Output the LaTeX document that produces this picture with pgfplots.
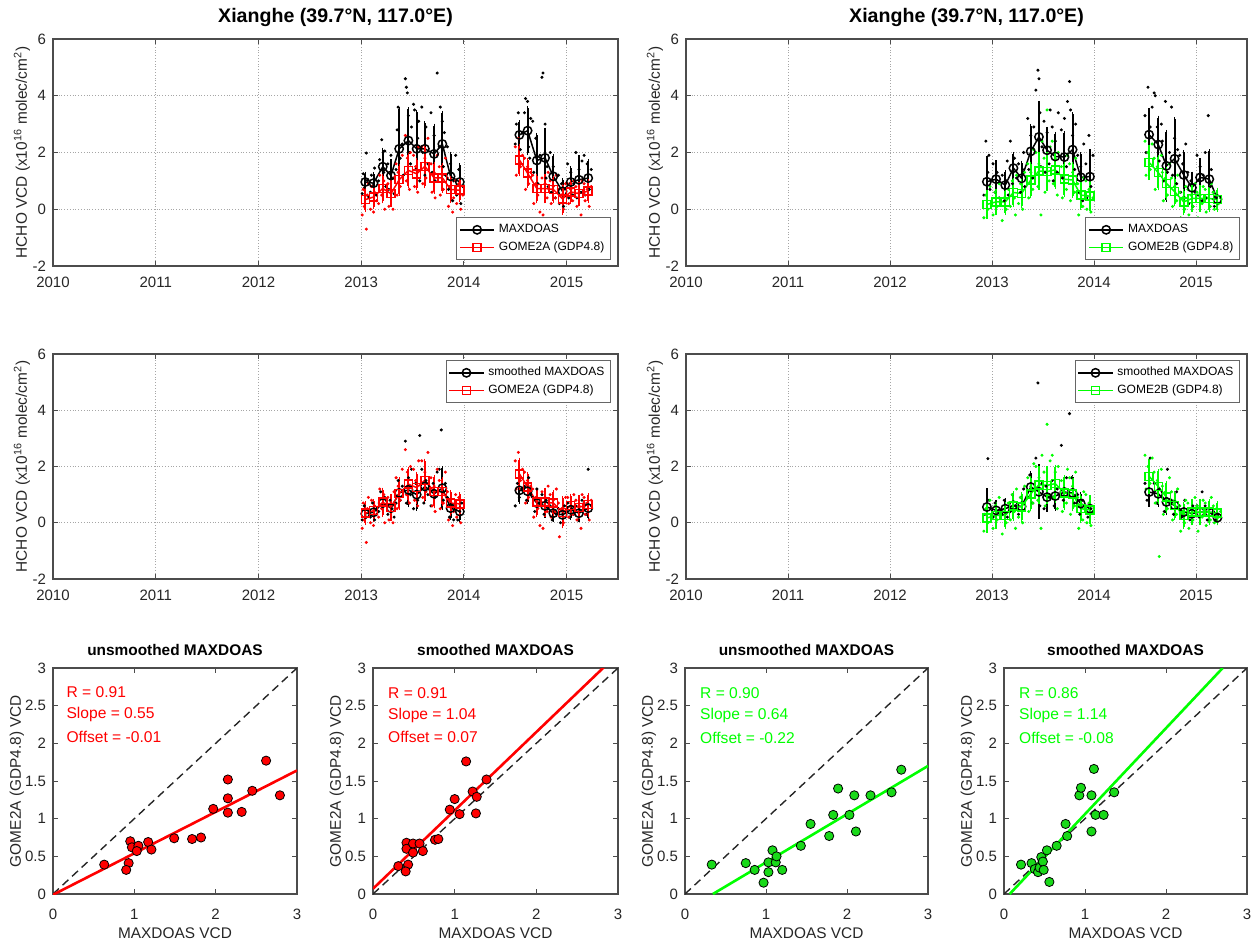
\documentclass[border=0pt]{standalone}
\usepackage{fontspec}
\setmainfont{Liberation Sans}
\usepackage{pgfplots}
\usepackage{pgfplotstable}
\pgfplotsset{compat=1.18}
\definecolor{mred}{rgb}{1,0,0}
\definecolor{mgreen}{rgb}{0,1,0}
\definecolor{mgfill}{rgb}{0.1,0.85,0.1}

% ---------- monthly means (x, mean, std) ----------
\pgfplotstableread{
x y e
2013.04 0.96 0.30
2013.12 0.92 0.33
2013.21 1.50 0.60
2013.29 1.19 0.50
2013.37 2.13 1.40
2013.46 2.42 1.10
2013.54 2.13 1.30
2013.62 2.13 0.90
2013.71 1.95 1.00
2013.79 2.30 1.10
2013.87 1.16 0.80
2013.96 0.96 0.60
2014.25 nan nan
2014.54 2.62 0.45
2014.62 2.77 0.80
2014.71 1.72 0.90
2014.79 1.81 1.00
2014.87 1.16 0.70
2014.96 0.63 0.40
2015.04 0.96 0.50
2015.12 1.04 0.80
2015.21 1.10 0.60
}\tmaxA
\pgfplotstableread{
x y e
2013.04 0.34 0.35
2013.12 0.43 0.35
2013.21 0.73 0.45
2013.29 0.55 0.40
2013.37 1.04 0.50
2013.46 1.37 0.55
2013.54 1.25 0.50
2013.62 1.51 0.70
2013.71 1.11 0.50
2013.79 1.11 0.45
2013.87 0.70 0.40
2013.96 0.67 0.35
2014.25 nan nan
2014.54 1.74 0.50
2014.62 1.27 0.45
2014.71 0.73 0.45
2014.79 0.73 0.45
2014.87 0.70 0.40
2014.96 0.37 0.50
2015.04 0.61 0.35
2015.12 0.55 0.35
2015.21 0.64 0.35
}\tgA
\pgfplotstableread{
x y e
2013.04 0.32 0.25
2013.12 0.37 0.25
2013.21 0.70 0.35
2013.29 0.52 0.30
2013.37 1.06 0.45
2013.46 1.17 0.55
2013.54 1.00 0.50
2013.62 1.29 0.50
2013.71 1.03 0.45
2013.79 1.23 0.70
2013.87 0.52 0.35
2013.96 0.40 0.30
2014.25 nan nan
2014.54 1.15 0.40
2014.62 1.12 0.40
2014.71 0.70 0.35
2014.79 0.60 0.35
2014.87 0.34 0.25
2014.96 0.28 0.25
2015.04 0.46 0.30
2015.12 0.34 0.25
2015.21 0.52 0.35
}\tsmA
\pgfplotstableread{
x y e
2012.95 0.97 0.85
2013.04 1.06 0.60
2013.13 0.85 0.45
2013.21 1.45 0.50
2013.29 1.09 0.55
2013.38 2.04 0.90
2013.46 2.55 1.20
2013.54 2.08 0.75
2013.62 1.86 0.80
2013.71 1.84 0.85
2013.79 2.10 1.25
2013.87 1.13 0.80
2013.96 1.15 0.90
2014.25 nan nan
2014.54 2.63 0.87
2014.63 2.28 0.95
2014.71 1.53 1.20
2014.79 1.78 1.40
2014.88 1.21 0.80
2014.96 0.76 0.50
2015.04 1.12 0.60
2015.13 1.06 0.98
2015.21 0.35 0.20
}\tmaxB
\pgfplotstableread{
x y e
2012.95 0.17 0.45
2013.04 0.26 0.40
2013.13 0.26 0.40
2013.21 0.59 0.45
2013.29 0.56 0.45
2013.38 1.03 0.55
2013.46 1.35 0.60
2013.54 1.33 0.60
2013.62 1.39 0.60
2013.71 1.06 0.55
2013.79 1.03 0.55
2013.87 0.50 0.45
2013.96 0.46 0.45
2014.25 nan nan
2014.54 1.65 0.55
2014.63 1.29 0.55
2014.71 0.91 0.50
2014.79 0.62 0.45
2014.88 0.26 0.40
2014.96 0.38 0.40
2015.04 0.38 0.40
2015.13 0.38 0.40
2015.21 0.34 0.35
}\tgB
\pgfplotstableread{
x y e
2012.95 0.56 0.60
2013.04 0.44 0.30
2013.13 0.50 0.30
2013.21 0.62 0.35
2013.29 0.58 0.35
2013.38 1.27 0.50
2013.46 1.10 0.90
2013.54 0.91 0.45
2013.62 0.95 0.45
2013.71 1.09 0.50
2013.79 1.06 0.55
2013.87 0.68 0.35
2013.96 0.50 0.30
2014.25 nan nan
2014.54 1.09 0.45
2014.63 1.03 0.40
2014.71 0.74 0.40
2014.79 0.62 0.35
2014.88 0.38 0.30
2014.96 0.32 0.25
2015.04 0.38 0.30
2015.13 0.38 0.30
2015.21 0.18 0.20
}\tsmB

% ---------- individual observations ----------
\pgfplotstableread[row sep=\\]{x y\\
2013.01 0.55\\2013.02 1.25\\2013.03 0.75\\2013.05 1.98\\2013.06 1.02\\2013.07 0.45\\
2013.09 0.6\\2013.10 1.2\\2013.12 0.85\\2013.13 1.45\\2013.15 0.5\\
2013.17 1.0\\2013.18 1.75\\2013.20 2.45\\2013.22 1.3\\2013.23 2.05\\2013.24 0.8\\
2013.26 1.6\\2013.27 0.7\\2013.29 1.9\\2013.31 1.1\\2013.32 0.55\\
2013.34 1.4\\2013.35 2.8\\2013.36 3.6\\2013.38 1.8\\2013.40 2.3\\2013.41 1.2\\
2013.43 4.6\\2013.44 4.3\\2013.45 4.1\\2013.46 3.3\\2013.47 2.0\\2013.48 1.6\\2013.49 2.9\\
2013.51 3.7\\2013.52 3.5\\2013.53 1.4\\2013.55 2.5\\2013.57 1.0\\2013.56 3.1\\
2013.59 3.6\\2013.60 2.0\\2013.62 1.2\\2013.63 2.9\\2013.65 1.6\\
2013.68 3.4\\2013.69 1.3\\2013.71 2.6\\2013.72 1.0\\2013.74 4.8\\
2013.76 2.2\\2013.77 3.6\\2013.79 3.1\\2013.80 1.5\\2013.82 1.2\\2013.81 2.7\\
2013.84 2.2\\2013.85 0.7\\2013.87 1.6\\2013.89 0.3\\2013.90 1.0\\
2013.92 1.9\\2013.93 0.5\\2013.95 1.4\\2013.97 0.2\\2013.99 0.8\\
2014.50 2.3\\2014.51 3.0\\2014.53 3.4\\2014.55 2.1\\2014.57 2.7\\
2014.59 3.4\\2014.60 3.9\\2014.62 3.8\\2014.63 2.2\\2014.65 3.2\\2014.64 1.8\\
2014.67 3.1\\2014.68 1.3\\2014.70 2.5\\2014.72 0.9\\2014.74 1.9\\
2014.76 4.65\\2014.77 4.8\\2014.79 3.0\\2014.81 1.5\\2014.82 0.8\\2014.80 1.1\\
2014.84 2.0\\2014.85 0.6\\2014.87 1.5\\2014.89 0.4\\2014.90 1.2\\
2014.92 1.2\\2014.93 0.2\\2014.95 0.9\\2014.97 0.1\\2014.99 0.5\\
2015.01 1.6\\2015.02 0.4\\2015.04 1.3\\2015.06 0.5\\2015.07 0.9\\
2015.09 2.0\\2015.10 0.4\\2015.12 1.4\\2015.14 0.6\\2015.15 1.7\\
2015.17 1.9\\2015.18 0.5\\2015.20 1.6\\2015.22 0.7\\2015.24 1.4\\
}\dmaxA
\pgfplotstableread[row sep=\\]{x y\\
2013.01 -0.2\\2013.02 0.7\\2013.03 0.1\\2013.05 -0.7\\2013.06 0.5\\2013.07 0.9\\
2013.09 0.0\\2013.10 0.8\\2013.12 -0.1\\2013.13 0.6\\2013.15 0.3\\
2013.17 0.2\\2013.18 1.2\\2013.20 0.5\\2013.22 1.0\\2013.23 0.0\\
2013.26 0.9\\2013.27 0.1\\2013.29 0.7\\2013.31 0.0\\2013.32 1.1\\
2013.34 1.6\\2013.35 0.5\\2013.36 1.3\\2013.38 0.8\\2013.40 1.9\\
2013.43 2.6\\2013.44 1.0\\2013.45 1.8\\2013.47 0.7\\2013.48 2.0\\
2013.51 1.9\\2013.52 0.8\\2013.53 1.5\\2013.55 0.6\\2013.56 2.2\\
2013.59 2.2\\2013.60 0.9\\2013.62 1.8\\2013.63 1.1\\2013.65 2.5\\
2013.68 1.6\\2013.69 0.6\\2013.71 1.3\\2013.72 0.4\\2013.74 1.9\\
2013.76 1.5\\2013.77 0.5\\2013.79 1.2\\2013.80 0.7\\2013.82 1.8\\
2013.84 1.1\\2013.85 0.1\\2013.87 0.8\\2013.89 -0.1\\2013.90 0.4\\
2013.92 1.0\\2013.93 0.2\\2013.95 0.9\\2013.97 0.0\\2013.99 0.5\\
2014.50 2.2\\2014.51 1.2\\2014.53 2.5\\2014.55 1.5\\2014.57 1.9\\
2014.59 1.8\\2014.60 0.7\\2014.62 1.5\\2014.63 0.9\\2014.65 1.3\\
2014.67 1.2\\2014.68 0.2\\2014.70 0.9\\2014.72 0.5\\2014.74 -0.1\\
2014.76 1.1\\2014.77 -0.2\\2014.79 0.9\\2014.81 0.4\\2014.82 1.3\\
2014.84 1.0\\2014.85 0.2\\2014.87 0.8\\2014.89 0.4\\2014.90 1.2\\
2014.92 0.7\\2014.93 -0.5\\2014.95 0.5\\2014.97 0.0\\2014.99 0.9\\
2015.01 0.9\\2015.02 0.2\\2015.04 0.7\\2015.06 0.3\\2015.07 1.0\\
2015.09 0.8\\2015.10 0.1\\2015.12 0.6\\2015.14 -0.2\\2015.15 1.0\\
2015.17 0.9\\2015.18 0.3\\2015.20 0.7\\2015.22 0.1\\2015.24 0.8\\
}\dgA
\pgfplotstableread[row sep=\\]{x y\\
2013.01 0.1\\2013.03 0.6\\2013.05 0.2\\2013.07 0.45\\
2013.09 0.2\\2013.11 0.7\\2013.13 0.1\\2013.15 0.5\\
2013.17 0.4\\2013.19 1.1\\2013.21 0.6\\2013.23 0.9\\
2013.26 0.3\\2013.28 0.8\\2013.30 0.5\\2013.32 0.2\\
2013.34 0.7\\2013.36 1.5\\2013.38 0.8\\2013.40 1.3\\
2013.43 2.9\\2013.44 0.7\\2013.46 1.6\\2013.48 1.0\\2013.49 1.9\\
2013.51 0.5\\2013.53 1.4\\2013.55 0.8\\2013.57 3.1\\
2013.59 1.9\\2013.61 0.7\\2013.63 1.5\\2013.65 1.0\\
2013.68 0.6\\2013.70 1.4\\2013.72 0.9\\2013.74 1.8\\
2013.76 1.9\\2013.78 3.3\\2013.80 0.8\\2013.82 1.4\\
2013.84 0.9\\2013.86 0.2\\2013.88 0.6\\2013.90 0.1\\
2013.92 0.6\\2013.94 0.1\\2013.96 0.4\\2013.98 0.7\\
2014.50 0.6\\2014.52 1.4\\2014.54 0.9\\2014.56 1.2\\
2014.59 1.3\\2014.61 0.8\\2014.63 1.6\\2014.65 1.0\\
2014.67 0.9\\2014.69 0.4\\2014.71 1.2\\2014.73 0.7\\
2014.76 1.0\\2014.78 0.3\\2014.80 0.8\\2014.82 0.5\\
2014.84 0.6\\2014.86 0.1\\2014.88 0.4\\2014.90 0.3\\
2014.92 0.5\\2014.94 0.0\\2014.96 0.3\\2014.98 0.6\\
2015.01 0.7\\2015.03 0.2\\2015.05 0.5\\2015.07 0.3\\
2015.09 0.6\\2015.11 0.1\\2015.13 0.4\\2015.15 0.8\\
2015.17 0.7\\2015.19 0.3\\2015.21 1.9\\2015.24 0.6\\
}\dsmA
\pgfplotstableread[row sep=\\]{x y\\
2012.92 0.5\\2012.94 2.4\\2012.96 1.3\\2012.98 0.7\\2012.97 1.9\\
2013.01 1.6\\2013.03 0.6\\2013.05 1.3\\2013.07 0.4\\
2013.10 1.2\\2013.12 0.3\\2013.14 1.0\\2013.16 0.5\\2013.15 1.7\\
2013.18 2.4\\2013.20 0.9\\2013.22 1.8\\2013.24 1.1\\
2013.26 1.6\\2013.28 0.6\\2013.30 1.4\\2013.32 0.8\\2013.31 2.0\\
2013.35 3.2\\2013.36 1.4\\2013.38 2.6\\2013.40 1.1\\2013.41 2.9\\
2013.43 4.2\\2013.45 4.9\\2013.46 4.6\\2013.47 3.4\\2013.48 1.5\\2013.49 2.2\\
2013.51 3.1\\2013.52 1.3\\2013.54 2.7\\2013.56 1.6\\2013.57 3.5\\
2013.59 2.9\\2013.60 1.0\\2013.62 2.4\\2013.64 1.3\\2013.65 3.4\\
2013.68 2.8\\2013.69 1.1\\2013.71 3.2\\2013.73 1.5\\2013.74 3.8\\
2013.76 4.5\\2013.77 3.5\\2013.79 2.6\\2013.81 1.4\\2013.82 3.0\\
2013.84 1.9\\2013.85 0.6\\2013.87 1.5\\2013.89 0.3\\2013.90 2.3\\
2013.92 1.6\\2013.93 0.4\\2013.95 2.6\\2013.97 0.8\\2013.99 1.9\\
2014.50 3.3\\2014.51 2.0\\2014.53 4.3\\2014.55 2.9\\2014.57 3.6\\
2014.59 4.1\\2014.60 4.0\\2014.62 2.9\\2014.64 1.7\\2014.66 3.0\\
2014.67 2.4\\2014.68 1.0\\2014.70 3.8\\2014.72 1.3\\2014.74 2.0\\
2014.76 3.6\\2014.77 1.2\\2014.79 2.5\\2014.81 0.9\\2014.82 2.1\\
2014.84 1.9\\2014.85 0.6\\2014.87 1.6\\2014.89 0.4\\2014.90 2.3\\
2014.92 1.3\\2014.93 0.2\\2014.95 1.0\\2014.97 0.1\\2014.99 0.6\\
2015.01 1.9\\2015.02 0.5\\2015.04 1.5\\2015.06 0.3\\2015.07 1.2\\
2015.09 2.0\\2015.10 0.4\\2015.12 3.3\\2015.14 0.8\\2015.15 1.4\\
2015.17 0.6\\2015.18 0.1\\2015.20 0.4\\2015.22 0.2\\
}\dmaxB
\pgfplotstableread[row sep=\\]{x y\\
2012.92 -0.3\\2012.94 0.5\\2012.96 0.0\\2012.98 0.8\\
2013.01 -0.2\\2013.03 0.6\\2013.05 0.1\\2013.07 0.9\\
2013.10 -0.4\\2013.12 0.4\\2013.14 0.0\\2013.16 0.7\\
2013.18 0.1\\2013.20 1.0\\2013.22 0.4\\2013.24 1.2\\2013.23 -0.2\\
2013.26 0.2\\2013.28 0.9\\2013.30 0.0\\2013.32 1.3\\
2013.35 1.6\\2013.36 0.4\\2013.38 1.3\\2013.40 0.7\\2013.41 2.1\\
2013.43 2.0\\2013.45 0.8\\2013.46 1.6\\2013.48 -0.2\\2013.49 2.4\\
2013.51 1.8\\2013.52 0.6\\2013.54 3.5\\2013.56 1.0\\2013.57 2.2\\
2013.59 2.4\\2013.60 0.9\\2013.62 1.8\\2013.64 0.5\\2013.65 2.0\\
2013.68 1.5\\2013.69 0.4\\2013.71 1.2\\2013.73 0.7\\2013.74 1.9\\
2013.76 1.6\\2013.77 0.3\\2013.79 1.3\\2013.81 0.6\\2013.82 1.8\\
2013.84 0.9\\2013.85 -0.2\\2013.87 0.6\\2013.89 0.1\\2013.90 1.1\\
2013.92 1.0\\2013.93 0.0\\2013.95 0.7\\2013.97 -0.1\\2013.99 0.4\\
2014.50 2.4\\2014.51 1.2\\2014.53 2.0\\2014.55 1.4\\2014.57 2.3\\
2014.59 1.8\\2014.60 0.7\\2014.62 1.5\\2014.64 -1.2\\2014.66 1.9\\
2014.67 1.3\\2014.68 0.3\\2014.70 1.1\\2014.72 0.5\\2014.74 1.6\\
2014.76 1.1\\2014.77 0.1\\2014.79 0.8\\2014.81 0.3\\2014.82 1.2\\
2014.84 0.6\\2014.85 -0.3\\2014.87 0.4\\2014.89 0.0\\2014.90 0.8\\
2014.92 0.7\\2014.93 -0.2\\2014.95 0.5\\2014.97 0.1\\2014.99 0.9\\
2015.01 0.6\\2015.02 -0.3\\2015.04 0.5\\2015.06 0.2\\2015.07 0.8\\
2015.09 0.7\\2015.10 -0.1\\2015.12 0.4\\2015.14 0.1\\2015.15 0.9\\
2015.17 0.6\\2015.18 0.0\\2015.20 0.5\\2015.22 0.2\\2015.24 0.4\\
}\dgB
\pgfplotstableread[row sep=\\]{x y\\
2012.93 0.3\\2012.96 2.28\\2012.97 0.8\\
2013.01 0.2\\2013.03 0.7\\2013.06 0.4\\
2013.10 0.3\\2013.12 0.8\\2013.15 0.2\\
2013.18 0.4\\2013.20 1.0\\2013.23 0.6\\
2013.26 0.3\\2013.28 0.9\\2013.31 1.2\\
2013.35 0.9\\2013.37 1.7\\2013.40 0.7\\
2013.43 2.3\\2013.45 4.97\\2013.47 0.6\\2013.49 1.4\\
2013.51 0.5\\2013.53 1.3\\2013.56 0.9\\
2013.59 1.5\\2013.61 0.6\\2013.64 1.2\\
2013.68 2.75\\2013.70 0.8\\2013.73 1.6\\
2013.76 3.88\\2013.78 1.6\\2013.81 0.7\\
2013.84 1.0\\2013.86 0.3\\2013.89 0.8\\
2013.92 0.6\\2013.94 0.2\\2013.97 0.5\\
2014.50 1.4\\2014.52 0.8\\2014.55 2.3\\
2014.59 1.4\\2014.61 0.7\\2014.64 1.2\\
2014.67 0.9\\2014.69 0.4\\2014.72 1.9\\
2014.76 0.8\\2014.78 0.3\\2014.81 1.1\\
2014.84 0.6\\2014.86 0.2\\2014.89 0.8\\
2014.92 0.5\\2014.94 0.1\\2014.97 0.6\\
2015.01 0.6\\2015.03 0.2\\2015.06 1.1\\
2015.09 0.6\\2015.11 0.1\\2015.14 0.5\\
2015.17 0.4\\2015.19 0.1\\2015.22 0.3\\
}\dsmB

% ---------- scatter (MAXDOAS vs satellite, monthly) ----------
\pgfplotstableread[row sep=\\]{x y\\
0.63 0.39\\0.95 0.70\\0.97 0.62\\0.93 0.41\\0.90 0.32\\1.05 0.64\\1.03 0.57\\
1.17 0.69\\1.21 0.59\\1.49 0.74\\1.71 0.73\\1.82 0.75\\1.97 1.13\\2.15 1.52\\
2.15 1.27\\2.15 1.08\\2.32 1.09\\2.45 1.37\\2.62 1.77\\2.79 1.31\\
}\sE
\pgfplotstableread[row sep=\\]{x y\\
0.31 0.37\\0.41 0.68\\0.41 0.60\\0.43 0.39\\0.40 0.30\\0.49 0.67\\0.57 0.67\\
0.49 0.55\\0.61 0.57\\0.76 0.72\\0.80 0.73\\0.94 1.12\\1.00 1.26\\1.06 1.06\\
1.14 1.76\\1.22 1.36\\1.27 1.29\\1.26 1.07\\1.39 1.52\\
}\sF
\pgfplotstableread[row sep=\\]{x y\\
0.33 0.39\\0.75 0.41\\0.86 0.32\\0.97 0.15\\1.03 0.29\\1.03 0.42\\1.08 0.58\\
1.12 0.42\\1.13 0.50\\1.20 0.32\\1.43 0.64\\1.55 0.93\\1.78 0.77\\1.83 1.05\\
1.89 1.40\\2.03 1.05\\2.09 1.31\\2.11 0.83\\2.29 1.31\\2.55 1.35\\2.67 1.65\\
}\sG
\pgfplotstableread[row sep=\\]{x y\\
0.21 0.39\\0.34 0.41\\0.38 0.33\\0.42 0.29\\0.44 0.35\\0.46 0.49\\0.48 0.43\\
0.49 0.32\\0.53 0.58\\0.56 0.16\\0.65 0.64\\0.76 0.93\\0.78 0.77\\0.93 1.31\\
0.95 1.41\\1.08 1.31\\1.08 0.83\\1.11 1.66\\1.13 1.05\\1.23 1.05\\1.36 1.35\\
}\sH

\tikzset{annot/.style={anchor=west, font=\fontsize{7.8}{9}\selectfont}}
\pgfplotsset{
  base/.style={scale only axis,
    axis line style={black!70, line width=0.6pt},
    tick style={black!70, line width=0.5pt},
    tick align=inside, major tick length=2.5pt,
    ticklabel style={font=\fontsize{7.5}{8}\selectfont, text=black!85},
    label style={font=\fontsize{7.7}{9}\selectfont, text=black!85}},
  ts/.style={base, xmin=2010, xmax=2015.5, ymin=-2, ymax=6,
    xtick={2010,2011,2012,2013,2014,2015},
    xticklabels={2010,2011,2012,2013,2014,2015},
    ytick={-2,0,2,4,6}, yticklabels={-2,0,2,4,6},
    grid=major, grid style={densely dotted, black!35, line width=0.4pt},
    xticklabel style={anchor=base, yshift=-11pt},
    ylabel={HCHO VCD (x10\textsuperscript{16} molec/cm\textsuperscript{2})},
    ylabel style={at={([xshift=-15.5pt]rel axis cs:0,0.5)}, anchor=center},
    title style={at={(0.5,1)}, anchor=base, yshift=2.5pt, font=\fontsize{9.8}{11}\selectfont\bfseries},
    legend style={font=\fontsize{6}{7}\selectfont, draw=black!60, line width=0.5pt,
      inner sep=1.2pt, row sep=-1pt},
    legend cell align=left,
    unbounded coords=jump},
  sc/.style={base, width=122pt, height=113pt, xmin=0, xmax=3, ymin=0, ymax=3,
    xtick={0,1,2,3}, xticklabels={0,1,2,3},
    ytick={0,0.5,1,1.5,2,2.5,3}, yticklabels={0,0.5,1,1.5,2,2.5,3},
    xlabel={MAXDOAS VCD}, ylabel={GOME2A (GDP4.8) VCD},
    xticklabel style={anchor=base, yshift=-12.5pt},
    xlabel style={at={([yshift=-22pt]rel axis cs:0.5,0)}, anchor=base},
    ylabel style={at={([xshift=-18pt]rel axis cs:0,0.5)}, anchor=center},
    title style={at={(0.5,1)}, anchor=base, yshift=0.5pt, font=\fontsize{7.7}{9}\selectfont\bfseries}},
  dotsK/.style={only marks, mark=*, mark size=0.55pt, black, forget plot},
  dotsR/.style={only marks, mark=*, mark size=0.55pt, mred, forget plot},
  dotsG/.style={only marks, mark=*, mark size=0.55pt, mgreen, forget plot},
  meanK/.style={black, line width=0.75pt, mark=o, mark size=2.1pt,
    mark options={solid, fill=white, line width=0.75pt},
    error bars/.cd, y dir=both, y explicit,
    error bar style={line width=1pt, black},
    error mark options={line width=0.6pt, mark size=1pt, black}},
  meanR/.style={mred, line width=0.75pt, mark=square, mark size=2pt,
    mark options={solid, fill=white, line width=0.75pt},
    error bars/.cd, y dir=both, y explicit,
    error bar style={line width=1pt, mred},
    error mark options={line width=0.6pt, mark size=1pt, mred}},
  meanG/.style={mgreen, line width=0.75pt, mark=square, mark size=2pt,
    mark options={solid, fill=white, line width=0.75pt},
    error bars/.cd, y dir=both, y explicit,
    error bar style={line width=1pt, mgreen},
    error mark options={line width=0.6pt, mark size=1pt, mgreen}},
  oneone/.style={black!85, dash pattern=on 4pt off 2.5pt, line width=0.7pt},
}

\begin{document}
\begin{tikzpicture}
\useasboundingbox (0,0) rectangle (629pt,471.5pt);

% ===== top-left =====
\begin{axis}[ts, at={(26.5pt,338.5pt)}, anchor=south west, width=282.5pt, height=113.5pt,
  title={Xianghe (39.7°N, 117.0°E)},
  legend style={at={(0.988,0.026)}, anchor=south east}]
\addplot[dotsK] table {\dmaxA};
\addplot[dotsR] table {\dgA};
\addplot[meanK] table[x=x, y=y, y error=e] {\tmaxA};
\addlegendentry{MAXDOAS}
\addplot[meanR] table[x=x, y=y, y error=e] {\tgA};
\addlegendentry{GOME2A (GDP4.8)}
\end{axis}

% ===== top-right =====
\begin{axis}[ts, at={(343pt,338.5pt)}, anchor=south west, width=280.5pt, height=113.5pt,
  title={Xianghe (39.7°N, 117.0°E)},
  legend style={at={(0.988,0.026)}, anchor=south east}]
\addplot[dotsK] table {\dmaxB};
\addplot[dotsG] table {\dgB};
\addplot[meanK] table[x=x, y=y, y error=e] {\tmaxB};
\addlegendentry{MAXDOAS}
\addplot[meanG] table[x=x, y=y, y error=e] {\tgB};
\addlegendentry{GOME2B (GDP4.8)}
\end{axis}

% ===== middle-left =====
\begin{axis}[ts, at={(26.5pt,182pt)}, anchor=south west, width=282.5pt, height=112.5pt,
  legend style={at={(0.988,0.973)}, anchor=north east}]
\addplot[dotsK] table {\dsmA};
\addplot[dotsR] table {\dgA};
\addplot[meanK] table[x=x, y=y, y error=e] {\tsmA};
\addlegendentry{smoothed MAXDOAS}
\addplot[meanR] table[x=x, y=y, y error=e] {\tgA};
\addlegendentry{GOME2A (GDP4.8)}
\end{axis}

% ===== middle-right =====
\begin{axis}[ts, at={(343pt,182pt)}, anchor=south west, width=280.5pt, height=112.5pt,
  legend style={at={(0.988,0.973)}, anchor=north east}]
\addplot[dotsK] table {\dsmB};
\addplot[dotsG] table {\dgB};
\addplot[meanK] table[x=x, y=y, y error=e] {\tsmB};
\addlegendentry{smoothed MAXDOAS}
\addplot[meanG] table[x=x, y=y, y error=e] {\tgB};
\addlegendentry{GOME2B (GDP4.8)}
\end{axis}

% ===== scatter E =====
\begin{axis}[sc, at={(26.5pt,24.5pt)}, anchor=south west, title={unsmoothed MAXDOAS}]
\addplot[oneone] coordinates {(0,0) (3,3)};
\addplot[mred, line width=1.3pt] coordinates {(0,-0.01) (3,1.64)};
\addplot[only marks, mark=*, mark size=2.3pt, mark options={fill=mred, draw=black, line width=0.4pt}] table {\sE};
\node[annot, text=mred] at (axis cs:0.08,2.68) {R = 0.91};
\node[annot, text=mred] at (axis cs:0.08,2.38) {Slope = 0.55};
\node[annot, text=mred] at (axis cs:0.08,2.08) {Offset = -0.01};
\end{axis}

% ===== scatter F =====
\begin{axis}[sc, at={(186.5pt,24.5pt)}, anchor=south west, width=122.5pt, title={smoothed MAXDOAS}]
\addplot[oneone] coordinates {(0,0) (3,3)};
\addplot[mred, line width=1.3pt] coordinates {(0,0.07) (3,3.19)};
\addplot[only marks, mark=*, mark size=2.3pt, mark options={fill=mred, draw=black, line width=0.4pt}] table {\sF};
\node[annot, text=mred] at (axis cs:0.1,2.66) {R = 0.91};
\node[annot, text=mred] at (axis cs:0.1,2.37) {Slope = 1.04};
\node[annot, text=mred] at (axis cs:0.1,2.08) {Offset = 0.07};
\end{axis}

% ===== scatter G =====
\begin{axis}[sc, at={(342.5pt,24.5pt)}, anchor=south west, width=121.5pt, title={unsmoothed MAXDOAS}]
\addplot[oneone] coordinates {(0,0) (3,3)};
\addplot[mgreen, line width=1.3pt] coordinates {(0.344,0) (3,1.70)};
\addplot[only marks, mark=*, mark size=2.3pt, mark options={fill=mgfill, draw=black, line width=0.4pt}] table {\sG};
\node[annot, text=mgreen] at (axis cs:0.1,2.67) {R = 0.90};
\node[annot, text=mgreen] at (axis cs:0.1,2.37) {Slope = 0.64};
\node[annot, text=mgreen] at (axis cs:0.1,2.07) {Offset = -0.22};
\end{axis}

% ===== scatter H =====
\begin{axis}[sc, at={(502pt,24.5pt)}, anchor=south west, width=121.5pt, title={smoothed MAXDOAS}]
\addplot[oneone] coordinates {(0,0) (3,3)};
\addplot[mgreen, line width=1.3pt] coordinates {(0.07,0) (2.70,3)};
\addplot[only marks, mark=*, mark size=2.3pt, mark options={fill=mgfill, draw=black, line width=0.4pt}] table {\sH};
\node[annot, text=mgreen] at (axis cs:0.1,2.67) {R = 0.86};
\node[annot, text=mgreen] at (axis cs:0.1,2.37) {Slope = 1.14};
\node[annot, text=mgreen] at (axis cs:0.1,2.07) {Offset = -0.08};
\end{axis}
\end{tikzpicture}
\end{document}
